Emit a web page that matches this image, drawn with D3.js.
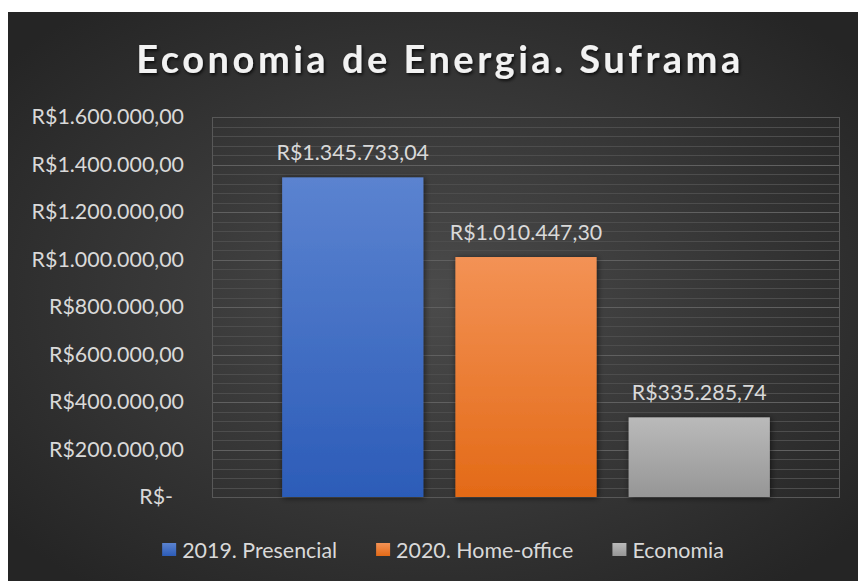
<!DOCTYPE html>
<html>
<head>
<meta charset="utf-8">
<script src="https://cdn.jsdelivr.net/npm/d3@7/dist/d3.min.js"></script>
<style>
  html, body { margin: 0; padding: 0; background: #ffffff; }
  svg { display: block; }
  text { font-family: Lato, "Open Sans", sans-serif; }
</style>
</head>
<body>
<svg id="chart" width="858" height="581"></svg>
<script>
// ---- data ----
const title = "Economia de Energia. Suframa";
const seriesNames = ["2019. Presencial", "2020. Home-office", "Economia"];
const seriesValues = [1345733.04, 1010447.30, 335285.74];
const valueLabels = ["R$1.345.733,04", "R$1.010.447,30", "R$335.285,74"];
const tickValues = [0, 200000, 400000, 600000, 800000, 1000000, 1200000, 1400000, 1600000];
const tickLabels = ["R$-", "R$200.000,00", "R$400.000,00", "R$600.000,00", "R$800.000,00",
                    "R$1.000.000,00", "R$1.200.000,00", "R$1.400.000,00", "R$1.600.000,00"];
const minorStep = 40000;

// ---- styling ----
const W = 858, H = 581;
const frame = { x: 8, y: 12, w: 850, h: 569 };
const plot = { left: 212, right: 840, top: 117, bottom: 497 };
const fs = 21.4;
const colors = [
  { top: "#5b83d0", bottom: "#2c5cb8" },
  { top: "#f39255", bottom: "#e36a17" },
  { top: "#bababa", bottom: "#969696" }
];

const svg = d3.select("#chart");
const defs = svg.append("defs");

const bg = defs.append("radialGradient").attr("id", "bg")
  .attr("cx", "50%").attr("cy", "50%").attr("r", "65%");
bg.append("stop").attr("offset", "0%").attr("stop-color", "#4b4b4b");
bg.append("stop").attr("offset", "100%").attr("stop-color", "#252525");

colors.forEach((c, i) => {
  const g = defs.append("linearGradient").attr("id", "bar" + i)
    .attr("x1", 0).attr("y1", 0).attr("x2", 0).attr("y2", 1);
  g.append("stop").attr("offset", "0%").attr("stop-color", c.top);
  g.append("stop").attr("offset", "100%").attr("stop-color", c.bottom);
});

const sh = defs.append("filter").attr("id", "shadow")
  .attr("x", "-20%").attr("y", "-20%").attr("width", "140%").attr("height", "140%");
sh.append("feDropShadow").attr("dx", 1).attr("dy", 1).attr("stdDeviation", 3)
  .attr("flood-color", "#000").attr("flood-opacity", 0.6);

const tsh = defs.append("filter").attr("id", "tshadow")
  .attr("x", "-10%").attr("y", "-30%").attr("width", "120%").attr("height", "160%");
tsh.append("feDropShadow").attr("dx", 1.5).attr("dy", 2).attr("stdDeviation", 1.5)
  .attr("flood-color", "#000").attr("flood-opacity", 0.7);

// background
svg.append("rect").attr("x", frame.x).attr("y", frame.y)
  .attr("width", frame.w).attr("height", frame.h).attr("fill", "url(#bg)");

// scales
const y = d3.scaleLinear().domain([0, 1600000]).range([plot.bottom, plot.top]);
const x = d3.scaleBand().domain(seriesNames).range([plot.left, plot.right])
  .paddingInner(0.185).paddingOuter(0.405);

// minor gridlines
const minorTicks = d3.range(0, 1600000 + 1, minorStep).filter(v => v % 200000 !== 0);
svg.append("g").selectAll("line").data(minorTicks).join("line")
  .attr("x1", plot.left).attr("x2", plot.right)
  .attr("y1", d => Math.round(y(d)) + 0.5).attr("y2", d => Math.round(y(d)) + 0.5)
  .attr("stroke", "#4d4d4d").attr("stroke-width", 1);

// major gridlines
svg.append("g").selectAll("line").data(tickValues).join("line")
  .attr("x1", plot.left).attr("x2", plot.right)
  .attr("y1", d => Math.round(y(d)) + 0.5).attr("y2", d => Math.round(y(d)) + 0.5)
  .attr("stroke", "#606060").attr("stroke-width", 1);

// plot border
svg.append("rect")
  .attr("x", plot.left + 0.5).attr("y", plot.top + 0.5)
  .attr("width", plot.right - plot.left - 1).attr("height", plot.bottom - plot.top)
  .attr("fill", "none").attr("stroke", "#585858").attr("stroke-width", 1);

// y axis
const yAxis = d3.axisLeft(y).tickValues(tickValues)
  .tickFormat((d, i) => tickLabels[i]).tickSize(0).tickPadding(0);
const ya = svg.append("g").attr("transform", `translate(184,0)`).call(yAxis);
ya.select(".domain").remove();
ya.selectAll("text")
  .attr("fill", "#d9d9d9").attr("font-size", fs)
  .style("font-family", "Lato, sans-serif")
  .attr("dx", d => d === 0 ? -11 : 0);

// bars
svg.append("g").selectAll("rect").data(seriesValues).join("rect")
  .attr("x", (d, i) => x(seriesNames[i]))
  .attr("y", d => y(d))
  .attr("width", x.bandwidth())
  .attr("height", d => y(0) - y(d))
  .attr("fill", (d, i) => `url(#bar${i})`)
  .attr("filter", "url(#shadow)");

// value labels
svg.append("g").selectAll("text").data(seriesValues).join("text")
  .attr("x", (d, i) => x(seriesNames[i]) + x.bandwidth() / 2)
  .attr("y", d => y(d) - 17)
  .attr("text-anchor", "middle")
  .attr("fill", "#d9d9d9").attr("font-size", fs)
  .text((d, i) => valueLabels[i]);

// title
svg.append("text")
  .attr("x", 440).attr("y", 73)
  .attr("text-anchor", "middle")
  .attr("fill", "#f2f2f2").attr("font-size", 38).attr("font-weight", "bold")
  .attr("letter-spacing", 3.5)
  .attr("filter", "url(#tshadow)")
  .text(title);

// legend
const legend = svg.append("g");
const items = legend.selectAll("g").data(seriesNames).join("g");
items.append("rect").attr("width", 14).attr("height", 13).attr("y", -7)
  .attr("fill", (d, i) => `url(#bar${i})`);
items.append("text").attr("x", 20).attr("dy", "0.35em")
  .attr("fill", "#d9d9d9").attr("font-size", fs).text(d => d);
const widths = [];
items.each(function () {
  widths.push(20 + this.querySelector("text").getComputedTextLength());
});
const gap = 39;
const totalW = d3.sum(widths) + gap * (widths.length - 1);
let start = 443 - totalW / 2;
items.attr("transform", (d, i) => {
  const t = `translate(${start},550)`;
  start += widths[i] + gap;
  return t;
});
</script>
</body>
</html>
